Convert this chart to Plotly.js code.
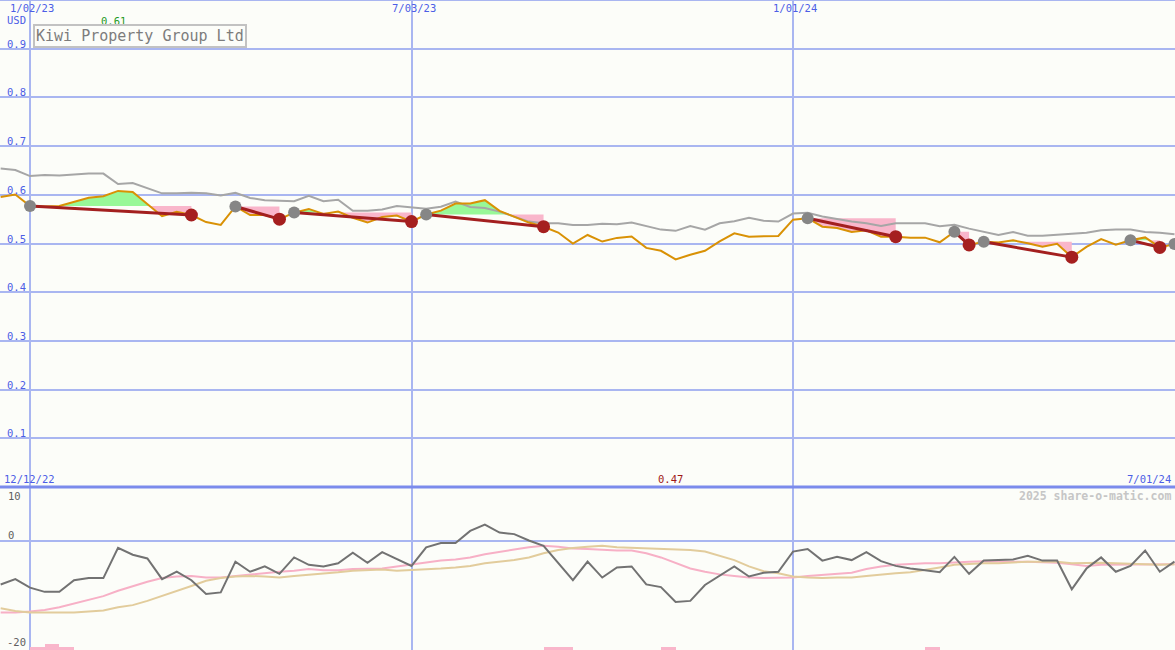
<!DOCTYPE html>
<html>
<head>
<meta charset="utf-8">
<script src="https://cdn.plot.ly/plotly-3.0.1.min.js"></script>
<style>
  html, body { margin: 0; padding: 0; background: #fcfdf9; }
  #chart { width: 1175px; height: 650px; }
</style>
</head>
<body>
<div id="chart"></div>
<script>
// ---------- DATA ----------
const dates = [
  '2022-12-19','2022-12-26','2023-01-02','2023-01-09','2023-01-16','2023-01-23','2023-01-30','2023-02-06','2023-02-13','2023-02-20',
  '2023-02-27','2023-03-06','2023-03-13','2023-03-20','2023-03-27','2023-04-03','2023-04-10','2023-04-17','2023-04-24','2023-05-01',
  '2023-05-08','2023-05-15','2023-05-22','2023-05-29','2023-06-05','2023-06-12','2023-06-19','2023-06-26','2023-07-03','2023-07-10',
  '2023-07-17','2023-07-24','2023-07-31','2023-08-07','2023-08-14','2023-08-21','2023-08-28','2023-09-04','2023-09-11','2023-09-18',
  '2023-09-25','2023-10-02','2023-10-09','2023-10-16','2023-10-23','2023-10-30','2023-11-06','2023-11-13','2023-11-20','2023-11-27',
  '2023-12-04','2023-12-11','2023-12-18','2023-12-25','2024-01-01','2024-01-08','2024-01-15','2024-01-22','2024-01-29','2024-02-05',
  '2024-02-12','2024-02-19','2024-02-26','2024-03-04','2024-03-11','2024-03-18','2024-03-25','2024-04-01','2024-04-08','2024-04-15',
  '2024-04-22','2024-04-29','2024-05-06','2024-05-13','2024-05-20','2024-05-27','2024-06-03','2024-06-10','2024-06-17','2024-06-24',
  '2024-07-01'
];
// weekly close (orange line)
const closePrice = [
  0.5955,0.6006,0.577,0.576,0.577,0.586,0.594,0.597,0.608,0.606,
  0.581,0.556,0.565,0.5585,0.544,0.538,0.576,0.5585,0.5585,0.550,
  0.5635,0.571,0.5605,0.5655,0.553,0.543,0.5545,0.5575,0.545,0.5595,
  0.5675,0.582,0.582,0.589,0.567,0.555,0.543,0.5345,0.5225,0.500,
  0.5175,0.504,0.5115,0.5145,0.491,0.485,0.4675,0.477,0.485,0.5045,
  0.521,0.514,0.514,0.5155,0.549,0.552,0.5345,0.532,0.5235,0.527,
  0.514,0.514,0.512,0.512,0.5025,0.524,0.497,0.5035,0.502,0.5065,
  0.5005,0.4935,0.4995,0.472,0.493,0.509,0.4975,0.5065,0.5125,0.492,
  0.499
];
// upper grey line
const upperLine = [
  0.654,0.651,0.6385,0.6405,0.6395,0.6415,0.6435,0.6435,0.622,0.624,
  0.613,0.603,0.603,0.604,0.603,0.5985,0.604,0.5935,0.589,0.5885,
  0.587,0.598,0.587,0.590,0.567,0.567,0.570,0.577,0.5735,0.5715,
  0.5755,0.586,0.575,0.573,0.5655,0.555,0.545,0.5415,0.5415,0.538,
  0.538,0.5405,0.5395,0.543,0.5355,0.5285,0.526,0.536,0.5285,0.5415,
  0.5455,0.553,0.5465,0.545,0.5615,0.563,0.5555,0.5495,0.545,0.5415,
  0.536,0.5415,0.5415,0.5415,0.5355,0.5385,0.5305,0.524,0.5175,0.5235,
  0.516,0.516,0.518,0.520,0.522,0.527,0.529,0.5285,0.5235,0.522,
  0.519
];
// trend segments (start = grey dot, end = red dot)
const segStart = ['2023-01-02','2023-04-10','2023-05-08','2023-07-10','2024-01-08','2024-03-18','2024-04-01','2024-06-10','2024-07-01'];
const segEnd   = ['2023-03-20','2023-05-01','2023-07-03','2023-09-04','2024-02-19','2024-03-25','2024-05-13','2024-06-24', null];

// lower panel oscillator
const oscLine = [
  -8.2,-7.2,-8.8,-9.6,-9.6,-7.4,-7.0,-7.0,-1.3,-2.6,
  -3.3,-7.2,-5.8,-7.4,-10.0,-9.7,-3.9,-5.8,-4.8,-6.2,
  -3.1,-4.5,-4.8,-4.2,-2.2,-4.1,-2.1,-3.4,-4.7,-1.2,
  -0.4,-0.4,1.9,3.1,1.6,1.3,0.1,-0.9,-4.2,-7.4,
  -3.9,-6.9,-5.0,-4.8,-8.2,-8.7,-11.5,-11.3,-8.3,-6.6,
  -4.8,-6.7,-6.0,-5.8,-2.0,-1.5,-3.7,-3.0,-3.6,-2.1,
  -3.8,-4.7,-5.2,-5.5,-5.9,-3.0,-6.2,-3.7,-3.6,-3.5,
  -2.8,-3.7,-3.7,-9.1,-5.2,-3.1,-5.8,-4.7,-1.8,-5.8,
  -3.9
];
const oscFast = [
  -13.5,-13.5,-13.3,-13.0,-12.5,-11.8,-11.1,-10.4,-9.4,-8.5,
  -7.7,-7.0,-6.7,-6.6,-6.9,-6.9,-6.6,-6.3,-6.0,-5.8,
  -5.6,-5.3,-5.5,-5.5,-5.3,-5.3,-5.2,-4.8,-4.4,-4.1,
  -3.7,-3.5,-3.1,-2.5,-2.0,-1.6,-1.2,-0.9,-1.1,-1.4,
  -1.5,-1.7,-1.8,-1.8,-2.3,-3.1,-4.1,-5.2,-5.8,-6.3,
  -6.6,-6.9,-7.0,-6.9,-6.9,-6.6,-6.4,-6.3,-6.0,-5.3,
  -4.8,-4.5,-4.3,-4.2,-4.2,-4.0,-3.9,-3.8,-3.9,-3.9,
  -3.9,-4.0,-4.1,-4.4,-4.7,-4.5,-4.5,-4.5,-4.5,-4.5,
  -4.4
];
const oscSlow = [
  -12.7,-13.2,-13.5,-13.5,-13.5,-13.5,-13.3,-13.1,-12.5,-12.1,
  -11.3,-10.4,-9.4,-8.5,-7.5,-7.0,-6.7,-6.6,-6.7,-6.9,
  -6.6,-6.4,-6.1,-5.9,-5.6,-5.5,-5.4,-5.6,-5.5,-5.3,
  -5.2,-5.0,-4.7,-4.2,-3.9,-3.6,-3.1,-2.3,-1.7,-1.3,
  -1.1,-0.9,-1.2,-1.3,-1.4,-1.6,-1.7,-1.7,-2.0,-2.8,
  -3.6,-4.8,-5.7,-6.1,-6.7,-6.9,-7.0,-6.9,-6.9,-6.6,
  -6.3,-6.1,-5.9,-5.5,-5.0,-4.5,-4.3,-4.2,-4.2,-4.0,
  -3.9,-3.9,-3.9,-4.2,-4.1,-4.1,-4.2,-4.3,-4.5,-4.5,
  -4.4
];
// small pink bars at the foot of the lower panel
const signalDates  = ['2023-01-02','2023-01-09','2023-01-16','2023-09-04','2023-09-11','2023-10-30','2024-03-04'];
const signalValues = [0.6, 1.15, 0.6, 0.6, 0.6, 0.6, 0.6];

const gridDates = ['2023-01-02','2023-07-03','2024-01-01'];
const gridLabels = ['1/02/23','7/03/23','1/01/24'];
const priceTicks = [0.9,0.8,0.7,0.6,0.5,0.4,0.3,0.2,0.1];
const oscTickLabels = ['10','0','-20'];
const chartTitle = 'Kiwi Property Group Ltd';
const currency = 'USD';
const firstLabel = '12/12/22';
const lastLabel = '7/01/24';
const credit = '2025 share-o-matic.com';

// ---------- STYLE / BUILD ----------
const W = 1175, H = 650;
const split = 163 / 650;
const oscRange = [-20.57, 10.19];
const BG = '#fcfdf9';
const FONT = 'DejaVu Sans Mono, monospace';
const BLUE = '#4c5ee6';
const DAY = 86400000;
const tms = dates.map(d => Date.parse(d));

const traces = [];

// fills between price and segment start level
const greenX = [], greenY = [], pinkX = [], pinkY = [];
function addPoly(i0, i1, level, above, X, Y) {
  const xs = [], ys = [];
  for (let i = i0; i <= i1; i++) {
    if (i > i0) {
      const a = closePrice[i-1] - level, b = closePrice[i] - level;
      if (a * b < 0) {
        const t = a / (a - b);
        xs.push(tms[i-1] + t * (tms[i] - tms[i-1]));
        ys.push(level);
      }
    }
    xs.push(tms[i]);
    ys.push(above ? Math.max(closePrice[i], level) : Math.min(closePrice[i], level));
  }
  xs.push(tms[i1], tms[i0], tms[i0]);
  ys.push(level, level, ys[0]);
  X.push(...xs, null); Y.push(...ys, null);
}
const segIdx = segStart.map((s, n) => [dates.indexOf(s), segEnd[n] ? dates.indexOf(segEnd[n]) : -1]);
segIdx.forEach(([i0, i1]) => {
  if (i1 < 0) return;
  const level = closePrice[i0];
  addPoly(i0, i1, level, true, greenX, greenY);
  addPoly(i0, i1, level, false, pinkX, pinkY);
});
traces.push({x: greenX, y: greenY, mode: 'lines', fill: 'toself', fillcolor: '#98f898',
  line: {width: 0, color: 'rgba(0,0,0,0)'}, hoverinfo: 'skip', xaxis: 'x', yaxis: 'y'});
traces.push({x: pinkX, y: pinkY, mode: 'lines', fill: 'toself', fillcolor: '#f9b6cb',
  line: {width: 0, color: 'rgba(0,0,0,0)'}, hoverinfo: 'skip', xaxis: 'x', yaxis: 'y'});

// grey upper line
traces.push({x: tms, y: upperLine, mode: 'lines', line: {color: '#a6a6a6', width: 2}, xaxis: 'x', yaxis: 'y'});
// close
traces.push({x: tms, y: closePrice, mode: 'lines', line: {color: '#d99105', width: 2}, xaxis: 'x', yaxis: 'y'});
// trend lines
const trX = [], trY = [];
segIdx.forEach(([i0, i1]) => {
  if (i1 < 0) return;
  trX.push(tms[i0], tms[i1], null);
  trY.push(closePrice[i0], closePrice[i1], null);
});
traces.push({x: trX, y: trY, mode: 'lines', line: {color: '#a31f1f', width: 3}, xaxis: 'x', yaxis: 'y'});
// dots
traces.push({x: segIdx.map(s => tms[s[0]]), y: segIdx.map(s => closePrice[s[0]]), mode: 'markers',
  marker: {color: '#868686', size: 12, line: {width: 0}}, xaxis: 'x', yaxis: 'y'});
const ends = segIdx.filter(s => s[1] >= 0);
traces.push({x: ends.map(s => tms[s[1]]), y: ends.map(s => closePrice[s[1]]), mode: 'markers',
  marker: {color: '#a51f1f', size: 13, line: {width: 0}}, xaxis: 'x', yaxis: 'y'});

// lower panel
traces.push({type: 'bar', x: signalDates.map(d => Date.parse(d)), y: signalValues, base: oscRange[0],
  width: 7 * DAY, offset: 0, marker: {color: '#f9b6cb', line: {width: 0}}, xaxis: 'x2', yaxis: 'y2'});
traces.push({x: tms, y: oscFast, mode: 'lines', line: {color: '#f7b0c6', width: 2}, xaxis: 'x2', yaxis: 'y2'});
traces.push({x: tms, y: oscSlow, mode: 'lines', line: {color: '#e2cc9c', width: 2}, xaxis: 'x2', yaxis: 'y2'});
traces.push({x: tms, y: oscLine, mode: 'lines', line: {color: '#727272', width: 2}, xaxis: 'x2', yaxis: 'y2'});

// annotations
const anns = [];
function pix(text, px, py, xanchor, color, size, extra) {
  anns.push(Object.assign({text, xref: 'paper', yref: 'paper', x: px / W, y: 1 - py / H,
    xanchor, yanchor: 'middle', showarrow: false, font: {family: FONT, size, color}}, extra || {}));
}
gridDates.forEach((d, i) => anns.push({text: gridLabels[i], xref: 'x', yref: 'paper', x: d, y: 1 - 8 / H,
  xanchor: 'center', yanchor: 'middle', xshift: 2, showarrow: false, font: {family: FONT, size: 10.5, color: BLUE}}));
pix(currency, 5, 20, 'left', BLUE, 10.5);
priceTicks.forEach(v => anns.push({text: v.toFixed(1), xref: 'paper', yref: 'y', x: 5 / W, y: v,
  xanchor: 'left', yanchor: 'middle', yshift: 5, showarrow: false, font: {family: FONT, size: 10.5, color: BLUE}}));
// max / min labels
let iMax = 0, iMin = 0;
closePrice.forEach((v, i) => { if (v > closePrice[iMax]) iMax = i; if (v < closePrice[iMin]) iMin = i; });
anns.push({text: closePrice[iMax].toFixed(2), xref: 'x', yref: 'paper', x: tms[iMax], y: 1 - 21 / H, xshift: -5,
  xanchor: 'center', yanchor: 'middle', showarrow: false, font: {family: FONT, size: 10.5, color: '#1f9a1f'}});
anns.push({text: closePrice[iMin].toFixed(2), xref: 'x', yref: 'paper', x: tms[iMin], y: 1 - 479 / H, xshift: -5,
  xanchor: 'center', yanchor: 'middle', showarrow: false, font: {family: FONT, size: 10.5, color: '#a01818'}});
// title box
pix(chartTitle, 140, 36, 'center', '#7c7c7c', 15, {bordercolor: '#c2c2c2', borderwidth: 2, borderpad: 1, bgcolor: BG});
// lower labels
pix(firstLabel, 2, 479, 'left', BLUE, 10.5);
pix(lastLabel, 1173, 479, 'right', BLUE, 10.5);
pix('<b>' + credit + '</b>', 1173, 496, 'right', '#c6c6c6', 11.5);
pix(oscTickLabels[0], 6, 496, 'left', '#606060', 10.5);
pix(oscTickLabels[1], 6, 535, 'left', '#606060', 10.5);
pix(oscTickLabels[2], 5, 642, 'left', '#606060', 10.5);

const xr = ['2022-12-18 16:30', '2024-07-01 05:45'];
const gridC = '#a9b6f1';
const layout = {
  width: W, height: H,
  margin: {l: 0, r: 0, t: 0, b: 0, pad: 0},
  paper_bgcolor: BG, plot_bgcolor: BG,
  showlegend: false,
  xaxis: {type: 'date', range: xr, domain: [0, 1], anchor: 'y', tickvals: gridDates, showticklabels: false,
    showgrid: true, gridcolor: gridC, gridwidth: 2, zeroline: false, showline: false, ticks: ''},
  xaxis2: {type: 'date', range: xr, domain: [0, 1], anchor: 'y2', tickvals: gridDates, showticklabels: false,
    showgrid: true, gridcolor: gridC, gridwidth: 2, zeroline: false, showline: false, ticks: ''},
  yaxis: {domain: [split, 1], range: [0, 1.0], tick0: 0, dtick: 0.1, showticklabels: false, showgrid: true,
    gridcolor: gridC, gridwidth: 2, zeroline: false, showline: false, ticks: ''},
  yaxis2: {domain: [0, split], range: oscRange, showticklabels: false, showgrid: false, zeroline: true,
    zerolinecolor: gridC, zerolinewidth: 2, showline: false, ticks: ''},
  shapes: [{type: 'line', xref: 'paper', yref: 'paper', x0: 0, x1: 1, y0: split, y1: split,
    line: {color: '#7b8bec', width: 3}},
    {type: 'line', xref: 'paper', yref: 'paper', x0: 0, x1: 1, y0: 1, y1: 1, line: {color: '#a9b6f1', width: 2}}],
  annotations: anns,
  bargap: 0
};
Plotly.newPlot('chart', traces, layout, {staticPlot: true, displayModeBar: false});
</script>
</body>
</html>
